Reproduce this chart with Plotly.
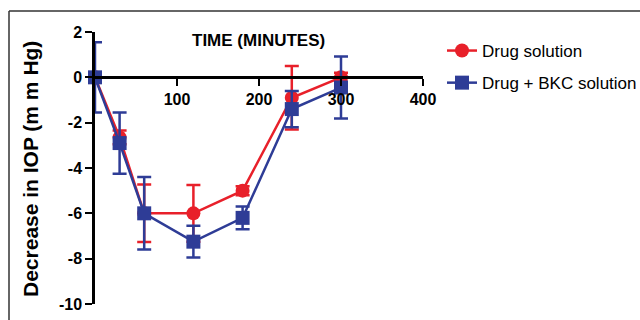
import plotly.graph_objects as go

times = [0, 30, 60, 120, 180, 240, 300]
drug_vals = [0, -2.65, -6.0, -6.0, -5.0, -0.9, 0.0]
drug_err = [0.2, 0.3, 1.27, 1.25, 0.2, 1.4, 0.2]
bkc_vals = [0, -2.9, -6.0, -7.25, -6.2, -1.4, -0.45]
bkc_err = [1.55, 1.35, 1.6, 0.7, 0.5, 0.8, 1.37]
x_ticks = [100, 200, 300, 400]
y_ticks = [2, 0, -2, -4, -6, -8, -10]

RED = "#e8202a"
BLUE = "#2e3c96"

L, R, T, B = 95, 423, 32, 304
W, H = 640, 320


def px(x):
    return (x - L) / (R - L)


def py(y):
    return (B - y) / (B - T)


fig = go.Figure()
fig.add_trace(go.Scatter(
    x=times, y=drug_vals, name="Drug solution", mode="lines+markers",
    line=dict(color=RED, width=2.5),
    marker=dict(symbol="circle", size=14, color=RED),
    error_y=dict(type="data", array=drug_err, color=RED, thickness=2.5, width=7),
    legendgroup="a", cliponaxis=False,
))
fig.add_trace(go.Scatter(
    x=times, y=bkc_vals, name="Drug + BKC solution", mode="lines+markers",
    line=dict(color=BLUE, width=2.5),
    marker=dict(symbol="square", size=14, color=BLUE),
    error_y=dict(type="data", array=bkc_err, color=BLUE, thickness=2.5, width=7),
    legendgroup="b", cliponaxis=False,
))

fig.update_layout(
    width=W, height=H,
    margin=dict(l=L, r=W - R, t=T, b=H - B, pad=0, autoexpand=False),
    paper_bgcolor="white", plot_bgcolor="white",
    font=dict(family="Liberation Sans, Arial, sans-serif", color="black"),
    xaxis=dict(
        range=[0, 400], anchor="free", position=10 / 12,
        showgrid=False, zeroline=False, showline=True, linecolor="black", linewidth=2.5,
        tickvals=x_ticks, ticktext=[str(v) for v in x_ticks],
        ticks="outside", ticklen=7, tickwidth=2, tickcolor="black",
        tickfont=dict(size=16, family="Liberation Sans, Arial", weight="bold"),
    ),
    yaxis=dict(
        range=[-10, 2],
        showgrid=False, zeroline=False, showline=True, linecolor="black", linewidth=2.5,
        tickvals=y_ticks, ticktext=[str(v) for v in y_ticks],
        ticks="outside", ticklen=7, tickwidth=2, tickcolor="black",
        tickfont=dict(size=16, family="Liberation Sans, Arial", weight="bold"),
    ),
    legend=dict(
        x=px(442), y=py(33), xanchor="left", yanchor="top",
        font=dict(size=17, family="Liberation Sans, Arial"),
        bgcolor="rgba(0,0,0,0)", tracegroupgap=7, traceorder="grouped",
        itemwidth=30,
    ),
    showlegend=True,
)

fig.add_annotation(
    x=px(258), y=py(40), xref="paper", yref="paper", text="TIME (MINUTES)",
    showarrow=False, xanchor="center", yanchor="middle",
    font=dict(size=17, family="Liberation Sans, Arial", weight="bold"),
)
fig.add_annotation(
    x=px(30), y=py(169), xref="paper", yref="paper", text="Decrease in IOP (m m Hg)",
    showarrow=False, textangle=-90, xanchor="center", yanchor="middle",
    font=dict(size=21, family="Liberation Sans, Arial", weight="bold"),
)

fig.add_shape(type="line", xref="paper", yref="paper",
              x0=px(9), x1=px(645), y0=py(11), y1=py(11),
              line=dict(color="#333333", width=1.5))
fig.add_shape(type="line", xref="paper", yref="paper",
              x0=px(9), x1=px(9), y0=py(11), y1=py(325),
              line=dict(color="#333333", width=1.5))

fig.write_html("out.html")
